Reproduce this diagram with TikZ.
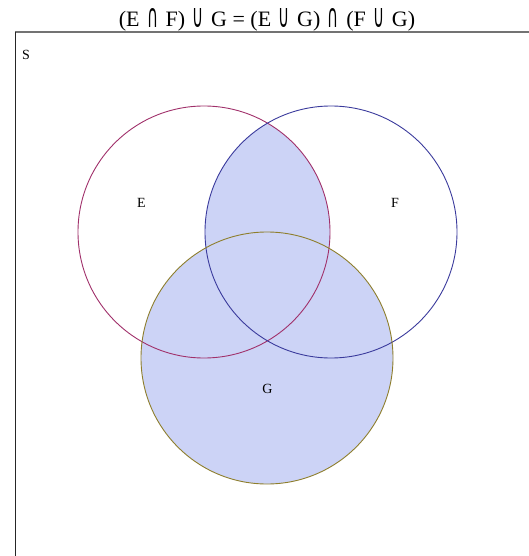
\documentclass[tikz,border=0pt]{standalone}
\usepackage{fontspec}
\setmainfont{Liberation Serif}
\newfontfamily\symfont{DejaVu Sans}
\newcommand{\bigsym}[1]{\hspace{7.5pt}\raisebox{-1.5pt}{\resizebox{11pt}{19pt}{\raisebox{\depth}{\symfont #1}}}\hspace{7.5pt}}
\newcommand{\ncap}{\bigsym{∩}}
\newcommand{\ncup}{\bigsym{∪}}
\begin{document}
\begin{tikzpicture}[x=1pt,y=-1pt,
  lbl/.style={font=\fontsize{14}{16}\selectfont, inner sep=0pt},
  ring/.style={line width=0.9pt}]
\definecolor{vennfill}{HTML}{CCD3F6}
\definecolor{ecol}{HTML}{A0306A}
\definecolor{fcol}{HTML}{3A3A9C}
\definecolor{gcol}{HTML}{8E7E2C}
\useasboundingbox (0,0) rectangle (529,556);
% frame
\draw[line width=1.2pt, black!55] (15,32) -- (529,32);
\draw[line width=1.0pt, black!85] (15,32) -- (15,556);
% shading (E cap F) cup G
\fill[vennfill] (267,358) circle (126);
\begin{scope}
  \clip (204,232) circle (126);
  \fill[vennfill] (331,232) circle (126);
\end{scope}
% circles
\draw[ring, ecol] (204,232) circle (126);
\draw[ring, fcol] (331,232) circle (126);
\draw[ring, gcol] (267,358) circle (126);
% labels
\node[lbl] (s) at (26,55) {S};
\node[lbl] (e) at (141.5,203) {E};
\node[lbl] (f) at (395,203) {F};
\node[lbl] (g) at (267.5,389) {G};
\node[font=\fontsize{22}{24}\selectfont, inner sep=0pt, anchor=base] (title) at (267,26.5)
  {(E\ncap F)\ncup G = (E\ncup G)\ncap(F\ncup G)};
\end{tikzpicture}
\end{document}
